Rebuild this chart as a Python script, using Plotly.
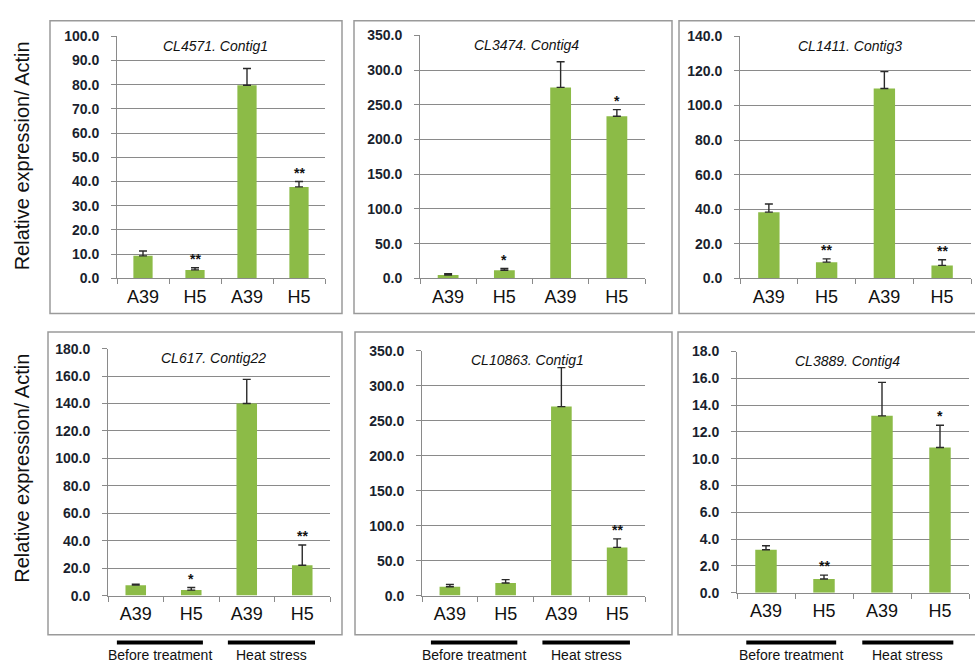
import plotly.graph_objects as go

W, H = 975, 669

# Gene contigs, one panel each (top row then bottom row)
titles = ["CL4571. Contig1", "CL3474. Contig4", "CL1411. Contig3",
          "CL617. Contig22", "CL10863. Contig1", "CL3889. Contig4"]
lines = ["A39", "H5", "A39", "H5"]
groups = ["Before treatment", "Heat stress"]

# Relative expression (mean) per panel: A39, H5 before; A39, H5 heat stress
means_1 = [9.3, 3.5, 79.8, 37.8]
means_2 = [4.7, 11.7, 275.0, 233.5]
means_3 = [38.3, 9.4, 109.8, 7.5]
means_4 = [7.6, 4.0, 140.0, 22.1]
means_5 = [12.6, 18.1, 270.0, 68.9]
means_6 = [3.2, 1.02, 13.2, 10.84]

# Upper error bar length
err_1 = [2.0, 0.9, 6.9, 2.2]
err_2 = [2.0, 2.5, 37.0, 9.5]
err_3 = [4.7, 1.9, 9.8, 3.3]
err_4 = [0.7, 1.9, 17.6, 14.8]
err_5 = [3.2, 4.7, 55.7, 12.1]
err_6 = [0.3, 0.29, 2.5, 1.66]

# Significance marks
sig_1 = ["", "**", "", "**"]
sig_2 = ["", "*", "", "*"]
sig_3 = ["", "**", "", "**"]
sig_4 = ["", "*", "", "**"]
sig_5 = ["", "", "", "**"]
sig_6 = ["", "**", "", "*"]

# Axis maxima and tick steps
ymax = [100, 350, 140, 180, 350, 18]
ystep = [10, 50, 20, 20, 50, 2]

means = [means_1, means_2, means_3, means_4, means_5, means_6]
errs = [err_1, err_2, err_3, err_4, err_5, err_6]
sigs = [sig_1, sig_2, sig_3, sig_4, sig_5, sig_6]

# Layout in pixels: plot area (x0, x1, y0_top, y1_bottom) and frame box
plot_px = [(117, 325, 29, 277), (420, 645, 28, 277), (740, 971, 29, 277),
           (108, 330, 349, 602), (422, 645, 351, 602), (737, 969, 352, 599)]
box_px = [(50, 342, 13, 313), (354, 672, 13, 313), (679, 985, 13, 313),
          (48, 342, 332, 642), (355, 672, 332, 642), (678, 985, 332, 642)]

BAR = "#8cbb47"
GRID = "#8a8a8a"
TXT = "#111111"


def px_x(v):
    return v / W


def px_y(v):
    return 1 - v / H


fig = go.Figure()
xs = [0, 1, 2, 3]
shapes = []
annotations = []

for i in range(6):
    n = i + 1
    xa = "x" if n == 1 else f"x{n}"
    ya = "y" if n == 1 else f"y{n}"
    fig.add_trace(go.Bar(
        x=xs, y=means[i], xaxis=xa, yaxis=ya, width=0.37,
        marker=dict(color=BAR, line=dict(width=0)),
        error_y=dict(type="data", symmetric=False, array=errs[i],
                     arrayminus=[0] * 4, color="#2a2a2a", thickness=1.4, width=4),
        showlegend=False, hoverinfo="skip",
    ))
    x0, x1, yt, yb = plot_px[i]
    tickvals = [k * ystep[i] for k in range(int(ymax[i] / ystep[i]) + 1)]
    ticktext = [f"<b>{v:.1f}</b>" for v in tickvals]
    fig.layout[f"xaxis{n if n > 1 else ''}"] = dict(
        domain=[px_x(x0), px_x(x1)], anchor=ya, range=[-0.5, 3.5],
        tickvals=xs, ticktext=lines, ticks="", showgrid=False, zeroline=False,
        showline=True, linecolor=GRID, linewidth=1, ticklabelstandoff=2,
        tickfont=dict(family="Arial", size=18, color=TXT),
        minor=dict(tickvals=[-0.5, 0.5, 1.5, 2.5, 3.5], ticks="outside",
                   ticklen=5, tickcolor=GRID, showgrid=False),
        fixedrange=True,
    )
    fig.layout[f"yaxis{n if n > 1 else ''}"] = dict(
        domain=[px_y(yb), px_y(yt)], anchor=xa, range=[0, ymax[i]],
        tickvals=tickvals, ticktext=ticktext, ticks="outside", ticklen=5,
        tickcolor=GRID, showgrid=True, gridcolor=GRID, gridwidth=1,
        zeroline=False, showline=True, linecolor=GRID, linewidth=1,
        ticklabelstandoff=9,
        tickfont=dict(family="Arial", size=14, color="#1a1f2e", weight="bold"),
        fixedrange=True,
    )
    # frame around each panel
    bx0, bx1, by0, by1 = box_px[i]
    shapes.append(dict(type="rect", xref="paper", yref="paper",
                       x0=px_x(bx0), x1=px_x(bx1), y0=px_y(by1), y1=px_y(by0),
                       line=dict(color="#9a9a9a", width=1.5), layer="below"))
    # panel title
    annotations.append(dict(text=f"<i>{titles[i]}</i>", xref="paper", yref="paper",
                            x=px_x((x0 + x1) / 2 - 6), y=px_y(yt + 10),
                            showarrow=False, xanchor="center", yanchor="middle",
                            font=dict(family="Arial", size=14, color=TXT)))
    # significance stars above the error bars
    for k in range(4):
        if sigs[i][k]:
            annotations.append(dict(text=f"<b>{sigs[i][k]}</b>", xref=xa, yref=ya,
                                    x=xs[k], y=means[i][k] + errs[i][k],
                                    yshift=9, showarrow=False, yanchor="middle",
                                    font=dict(family="Arial", size=14, color=TXT)))
    # treatment group bars under the bottom row
    if i >= 3:
        for g, (a, b) in enumerate([(-0.34, 1.21), (1.66, 3.23)]):
            shapes.append(dict(type="line", xref=xa, yref="paper",
                               x0=a, x1=b, y0=px_y(650), y1=px_y(650),
                               line=dict(color="black", width=4)))
            annotations.append(dict(text=groups[g], xref=xa, yref="paper",
                                    x=(a + b) / 2, y=px_y(663), showarrow=False,
                                    xanchor="center", yanchor="middle",
                                    font=dict(family="Arial", size=14, color=TXT)))

# shared y-axis titles
for yc in (152, 472):
    annotations.append(dict(text="Relative expression/ Actin", xref="paper",
                            yref="paper", x=px_x(22), y=px_y(yc), textangle=-90,
                            showarrow=False, xanchor="center", yanchor="middle",
                            font=dict(family="Arial", size=20, color=TXT)))

fig.update_layout(
    width=W, height=H, margin=dict(l=0, r=0, t=0, b=0),
    paper_bgcolor="white", plot_bgcolor="white",
    shapes=shapes, annotations=annotations, bargap=0.6,
)

fig.write_html("out.html")
